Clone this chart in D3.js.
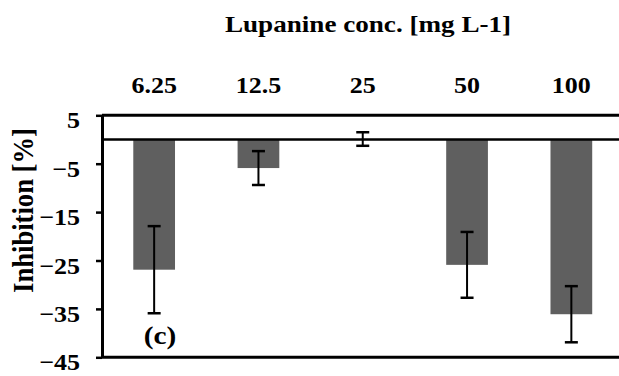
<!DOCTYPE html>
<html lang="en">
<head>
  <meta charset="utf-8">
  <script src="https://d3js.org/d3.v7.min.js"></script>
  <style>
    body { margin: 0; background: white; }
    svg text { font-family: 'Liberation Serif', serif; font-weight: bold; fill: black; }
  </style>
</head>
<body>
<script>
  // data
  var categories = ["6.25", "12.5", "25", "50", "100"];
  var inhibition = [-26.9, -5.9, 0.1, -25.9, -36.1];
  var errors = [9.0, 3.5, 1.4, 6.8, 5.8];
  var yTicks = [5, -5, -15, -25, -35, -45];

  var W = 619, H = 376;
  var stretch = 1.13; // the picture's text is a bit wide

  var svg = d3.select("body").append("svg").attr("width", W).attr("height", H);

  var x = d3.scaleBand().domain(categories).range([102, 623.5]).paddingInner(0.6).paddingOuter(0.3);
  var y = d3.scaleLinear().domain([-45, 5]).range([357.3, 115.3]);

  // bars
  svg.selectAll("rect.bar").data(inhibition).enter().append("rect")
    .attr("class", "bar")
    .attr("x", function(d, i) { return x(categories[i]); })
    .attr("width", x.bandwidth())
    .attr("y", function(d) { return Math.min(y(d), y(0)); })
    .attr("height", function(d) { return Math.abs(y(d) - y(0)); })
    .attr("fill", "#5f5f5f");

  // horizontal lines at 5, 0 and -45
  [5, 0, -45].forEach(function(v) {
    svg.append("line")
      .attr("x1", 102).attr("x2", W + 5)
      .attr("y1", y(v)).attr("y2", y(v))
      .attr("stroke", "black").attr("stroke-width", v == 0 ? 2.5 : 3);
  });

  // y axis
  var yAxis = svg.append("g")
    .attr("transform", "translate(102,0)")
    .call(d3.axisLeft(y).tickValues(yTicks).tickSize(6).tickSizeOuter(0));
  yAxis.select(".domain").attr("stroke-width", 3);
  yAxis.selectAll(".tick line").attr("stroke-width", 2.5);
  yAxis.selectAll(".tick text")
    .attr("x", 0).attr("dy", null)
    .attr("transform", "translate(-22,12.5) scale(" + stretch + ",1)")
    .attr("text-anchor", "end")
    .style("font-size", "23px");

  // error bars
  var cap = 6.5;
  var eb = svg.selectAll("g.err").data(inhibition).enter().append("g")
    .attr("class", "err")
    .attr("stroke", "black");
  eb.append("line")
    .attr("x1", function(d, i) { return x(categories[i]) + x.bandwidth() / 2; })
    .attr("x2", function(d, i) { return x(categories[i]) + x.bandwidth() / 2; })
    .attr("y1", function(d, i) { return y(d + errors[i]); })
    .attr("y2", function(d, i) { return y(d - errors[i]); })
    .attr("stroke-width", 2);
  [1, -1].forEach(function(s) {
    eb.append("line")
      .attr("x1", function(d, i) { return x(categories[i]) + x.bandwidth() / 2 - cap; })
      .attr("x2", function(d, i) { return x(categories[i]) + x.bandwidth() / 2 + cap; })
      .attr("y1", function(d, i) { return y(d + s * errors[i]); })
      .attr("y2", function(d, i) { return y(d + s * errors[i]); })
      .attr("stroke-width", 2.5);
  });

  // category labels on top
  svg.selectAll("text.cat").data(categories).enter().append("text")
    .attr("class", "cat")
    .attr("transform", function(d) { return "translate(" + (x(d) + x.bandwidth() / 2) + ",93) scale(" + stretch + ",1)"; })
    .attr("text-anchor", "middle")
    .style("font-size", "23px")
    .text(function(d) { return d; });

  // title
  svg.append("text")
    .attr("transform", "translate(368,31.5) scale(" + stretch + ",1)")
    .attr("text-anchor", "middle")
    .style("font-size", "24px")
    .text("Lupanine conc. [mg L-1]");

  // y label
  svg.append("text")
    .attr("transform", "translate(33,210.5) scale(" + stretch + ",1) rotate(-90)")
    .attr("text-anchor", "middle")
    .style("font-size", "26.6px")
    .text("Inhibition [%]");

  // panel letter
  svg.append("text")
    .attr("transform", "translate(160,344) scale(" + stretch + ",1)")
    .attr("text-anchor", "middle")
    .style("font-size", "26px")
    .text("(c)");
</script>
</body>
</html>
